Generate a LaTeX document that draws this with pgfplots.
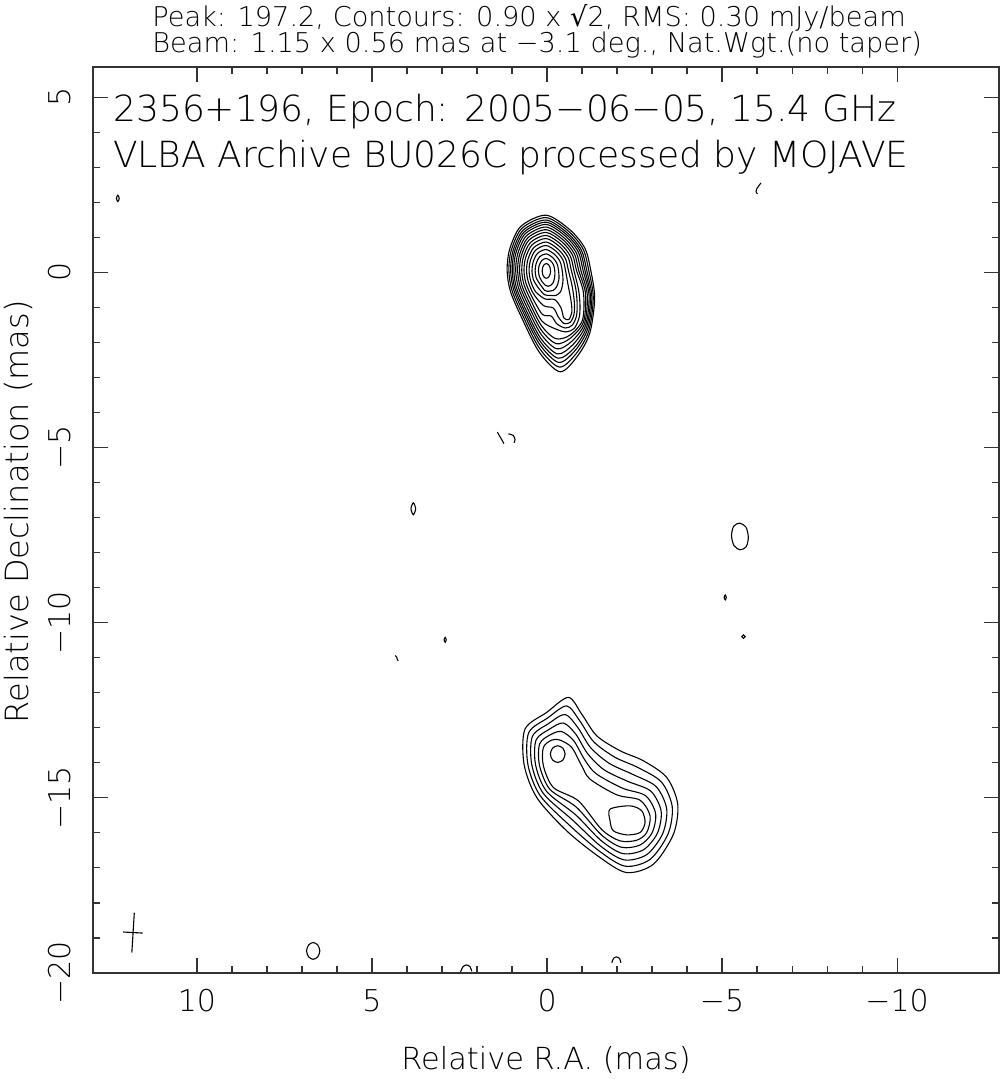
\documentclass[border=0pt]{standalone}
\usepackage{pgfplots}
\pgfplotsset{compat=1.18}
\usepackage{fontspec}
\setmainfont{DejaVu Sans}[UprightFont={* ExtraLight}]
\newfontfamily\djv{DejaVu Sans}
\newcommand{\fs}[1]{\fontsize{#1}{#1}\selectfont}
\begin{document}
\begin{tikzpicture}
\begin{axis}[
  scale only axis, width=453pt, height=453pt,
  x dir=reverse,
  xmin=-12.91, xmax=12.97, ymin=-20, ymax=5.86,
  axis line style={line width=0.7pt, black!80},
  tick pos=both, tick align=inside,
  major tick length=7.5pt, minor tick length=3.5pt,
  every tick/.style={black!80, line width=0.6pt},
  xtick={-10,-5,0,5,10}, xticklabels={−10,−5,0,5,10},
  ytick={-20,-15,-10,-5,0,5}, yticklabels={−20,−15,−10,−5,0,5},
  minor x tick num=4, minor y tick num=4,
  xticklabel style={font=\fs{15pt}, anchor=base, yshift=-19pt},
  yticklabel style={font=\fs{15pt}, xshift=-11pt, rotate=90, anchor=base},
  xlabel={Relative R.A. (mas)}, ylabel={Relative Declination (mas)},
  xlabel style={font=\fs{15.2pt}, at={(axis description cs:0.5,-0.107)}, anchor=base},
  ylabel style={font=\fs{16pt}, at={(axis description cs:-0.0717,0.509)}, anchor=base},
  clip mode=individual,
  cont/.style={black, line width=0.55pt, smooth cycle},
  arc/.style={black, line width=0.55pt, smooth},
]
% ---- core contours (levels 0..15)
\addplot[cont] coordinates {(1.14,0.05) (1.07,0.65) (0.75,1.31) (0.03,1.63) (-0.645,1.22) (-1.08,0.69) (-1.25,0.05) (-1.36,-0.75) (-1.22,-1.74) (-0.864,-2.40) (-0.37,-2.84) (0.23,-2.27) (0.76,-1.22) (1.05,-0.53)};
\addplot[cont] coordinates {(1.09,0.05) (1.023,0.625) (0.717,1.256) (0.03,1.561) (-0.615,1.17) (-1.03,0.663) (-1.193,0.05) (-1.32,-0.73) (-1.19,-1.68) (-0.832,-2.32) (-0.351,-2.706) (0.22,-2.165) (0.726,-1.166) (1.004,-0.507)};
\addplot[cont] coordinates {(1.04,0.05) (0.975,0.60) (0.683,1.201) (0.03,1.492) (-0.585,1.12) (-0.98,0.635) (-1.135,0.05) (-1.28,-0.71) (-1.16,-1.62) (-0.80,-2.235) (-0.333,-2.573) (0.21,-2.06) (0.692,-1.112) (0.957,-0.484)};
\addplot[cont] coordinates {(0.995,0.05) (0.933,0.577) (0.653,1.152) (0.03,1.43) (-0.557,1.075) (-0.936,0.611) (-1.083,0.05) (-1.24,-0.69) (-1.13,-1.57) (-0.772,-2.16) (-0.316,-2.453) (0.201,-1.965) (0.661,-1.064) (0.916,-0.463)};
\addplot[cont] coordinates {(0.949,0.05) (0.889,0.554) (0.622,1.102) (0.03,1.366) (-0.529,1.029) (-0.89,0.586) (-1.03,0.05) (-1.20,-0.67) (-1.10,-1.52) (-0.737,-2.067) (-0.299,-2.33) (0.192,-1.869) (0.63,-1.014) (0.873,-0.441)};
\addplot[cont] coordinates {(0.895,0.05) (0.838,0.526) (0.586,1.043) (0.03,1.292) (-0.497,0.975) (-0.836,0.556) (-0.968,0.05) (-1.15,-0.64) (-1.07,-1.47) (-0.702,-1.973) (-0.279,-2.185) (0.181,-1.755) (0.593,-0.956) (0.823,-0.416)};
\addplot[cont] coordinates {(0.84,0.05) (0.786,0.499) (0.549,0.984) (0.03,1.216) (-0.464,0.921) (-0.781,0.527) (-0.905,0.05) (-1.10,-0.61) (-1.04,-1.42) (-0.667,-1.879) (-0.258,-2.038) (0.17,-1.64) (0.556,-0.897) (0.772,-0.391)};
\addplot[cont] coordinates {(0.785,0.05) (0.734,0.471) (0.512,0.924) (0.03,1.14) (-0.43,0.866) (-0.726,0.497) (-0.842,0.05) (-1.04,-0.58) (-1.01,-1.37) (-0.639,-1.804) (-0.238,-1.891) (0.159,-1.524) (0.519,-0.837) (0.721,-0.365)};
\addplot[cont] coordinates {(0.722,0.05) (0.675,0.439) (0.47,0.855) (0.03,1.053) (-0.392,0.803) (-0.664,0.462) (-0.769,0.05) (-0.90,-0.50) (-0.94,-0.92) (-0.92,-1.28) (-0.78,-1.60) (-0.55,-1.70) (-0.25,-1.62) (0.146,-1.392) (0.476,-0.769) (0.663,-0.336)};
\addplot[cont] coordinates {(0.658,0.045) (0.614,0.407) (0.427,0.786) (0.03,0.965) (-0.353,0.739) (-0.6,0.427) (-0.696,0.045) (-0.82,-0.46) (-0.86,-0.90) (-0.84,-1.25) (-0.72,-1.51) (-0.52,-1.59) (-0.28,-1.47) (-0.12,-1.25) (0.134,-1.2) (0.432,-0.7) (0.604,-0.306)};
\addplot[cont] coordinates {(0.585,0.045) (0.545,0.37) (0.378,0.706) (0.03,0.864) (-0.309,0.666) (-0.527,0.388) (-0.612,0.045) (-0.72,-0.41) (-0.78,-0.86) (-0.77,-1.20) (-0.66,-1.43) (-0.48,-1.46) (-0.32,-1.27) (-0.18,-1.02) (0.10,-0.95) (0.383,-0.622) (0.536,-0.272)};
\addplot[cont] coordinates {(0.513,0.045) (0.477,0.333) (0.33,0.628) (0.03,0.765) (-0.266,0.594) (-0.456,0.348) (-0.529,0.045) (-0.60,-0.36) (-0.68,-0.78) (-0.71,-1.12) (-0.62,-1.35) (-0.48,-1.30) (-0.40,-1.02) (-0.22,-0.78) (0.06,-0.76) (0.334,-0.544) (0.469,-0.239)};
\addplot[cont] coordinates {(0.43,0.043) (0.398,0.291) (0.274,0.538) (0.03,0.65) (-0.215,0.511) (-0.373,0.303) (-0.434,0.043) (-0.454,-0.264) (-0.389,-0.55) (-0.25,-0.66) (-0.10,-0.66) (0.07,-0.64) (0.26,-0.43) (0.393,-0.2)};
\addplot[cont] coordinates {(0.34,0.042) (0.313,0.246) (0.214,0.44) (0.03,0.526) (-0.161,0.422) (-0.283,0.254) (-0.33,0.042) (-0.339,-0.202) (-0.27,-0.42) (-0.17,-0.52) (-0.06,-0.54) (0.06,-0.52) (0.2,-0.34) (0.309,-0.158)};
\addplot[cont] coordinates {(0.245,0.041) (0.223,0.198) (0.15,0.336) (0.03,0.395) (-0.104,0.327) (-0.189,0.202) (-0.221,0.041) (-0.218,-0.137) (-0.172,-0.301) (-0.109,-0.37) (-0.03,-0.40) (0.05,-0.37) (0.151,-0.255) (0.221,-0.114)};
\addplot[cont] coordinates {(0.14,0.04) (0.124,0.145) (0.08,0.222) (0.02,0.25) (-0.04,0.222) (-0.084,0.145) (-0.10,0.04) (-0.084,-0.065) (-0.049,-0.132) (-0.021,-0.157) (0.003,-0.168) (0.03,-0.169) (0.08,-0.142) (0.124,-0.065)};
% ---- southern component
\addplot[cont] coordinates {(-0.610,-12.133) (-0.990,-12.610) (-1.419,-13.229) (-2.086,-13.657) (-2.752,-13.943) (-3.419,-14.419) (-3.733,-15.181) (-3.610,-16.038) (-3.038,-16.895) (-2.276,-17.133) (-1.514,-16.705) (-0.562,-15.943) (0.295,-14.990) (0.657,-14.038) (0.629,-13.038) (0.010,-12.562)};
\addplot[cont] coordinates {(-0.562,-12.377) (-0.933,-12.800) (-1.333,-13.400) (-1.933,-13.838) (-2.600,-14.137) (-3.267,-14.548) (-3.575,-15.248) (-3.457,-16.029) (-2.943,-16.758) (-2.238,-16.952) (-1.524,-16.543) (-0.648,-15.790) (0.200,-14.933) (0.547,-14.048) (0.524,-13.143) (-0.019,-12.720)};
\addplot[cont] coordinates {(-0.514,-12.621) (-0.876,-12.990) (-1.248,-13.571) (-1.781,-14.019) (-2.448,-14.331) (-3.114,-14.678) (-3.417,-15.314) (-3.305,-16.019) (-2.848,-16.621) (-2.200,-16.771) (-1.533,-16.381) (-0.733,-15.638) (0.105,-14.876) (0.436,-14.057) (0.419,-13.248) (-0.048,-12.878)};
\addplot[cont] coordinates {(-0.467,-12.865) (-0.819,-13.181) (-1.162,-13.743) (-1.629,-14.200) (-2.295,-14.526) (-2.962,-14.808) (-3.259,-15.381) (-3.152,-16.010) (-2.752,-16.484) (-2.162,-16.590) (-1.543,-16.219) (-0.819,-15.486) (0.010,-14.819) (0.326,-14.067) (0.314,-13.352) (-0.076,-13.036)};
\addplot[cont] coordinates {(-0.419,-13.109) (-0.762,-13.371) (-1.076,-13.914) (-1.40,-14.31) (-2.143,-14.720) (-2.810,-14.937) (-3.101,-15.448) (-3.000,-16.000) (-2.657,-16.347) (-2.124,-16.410) (-1.552,-16.057) (-0.83,-15.26) (-0.086,-14.762) (0.215,-14.076) (0.210,-13.457) (-0.105,-13.194)};
\addplot[cont] coordinates {(-0.371,-13.352) (-0.705,-13.562) (-0.990,-14.086) (-1.229,-14.467) (-1.990,-14.914) (-2.657,-15.067) (-2.943,-15.514) (-2.848,-15.990) (-2.562,-16.210) (-2.086,-16.229) (-1.562,-15.905) (-0.895,-15.086) (-0.181,-14.705) (0.105,-14.086) (0.105,-13.562) (-0.133,-13.352)};
\addplot[cont] coordinates {(-0.095,-13.752) (-0.157,-13.584) (-0.305,-13.514) (-0.453,-13.584) (-0.515,-13.752) (-0.453,-13.92) (-0.305,-13.99) (-0.157,-13.92)};
\addplot[cont] coordinates {(-1.8,-15.324) (-2.371,-15.229) (-2.705,-15.371) (-2.8,-15.705) (-2.657,-15.99) (-2.276,-16.057) (-1.895,-15.943) (-1.8,-15.657)};
% ---- isolated noise contours
\addplot[cont] coordinates {(12.30,2.11) (12.26,2.20) (12.22,2.11) (12.26,2.02)};
\addplot[cont] coordinates {(3.887,-6.75) (3.82,-6.58) (3.753,-6.75) (3.82,-6.92)};
\addplot[cont] coordinates {(-5.27,-7.52) (-5.33,-7.25) (-5.50,-7.16) (-5.68,-7.27) (-5.75,-7.56) (-5.69,-7.83) (-5.52,-7.92) (-5.34,-7.80)};
\addplot[cont] coordinates {(-5.06,-9.28) (-5.09,-9.21) (-5.12,-9.28) (-5.09,-9.35)};
\addplot[cont] coordinates {(-5.56,-10.4) (-5.61,-10.35) (-5.66,-10.4) (-5.61,-10.45)};
\addplot[cont] coordinates {(2.94,-10.49) (2.91,-10.42) (2.88,-10.49) (2.91,-10.56)};
\addplot[cont] coordinates {(6.87,-19.37) (6.81,-19.2) (6.68,-19.13) (6.55,-19.2) (6.49,-19.37) (6.55,-19.54) (6.68,-19.61) (6.81,-19.54)};
\addplot[arc] coordinates {(-6.11,2.55) (-6.05,2.47) (-5.99,2.38) (-5.97,2.30) (-6.01,2.24)};
\addplot[arc] coordinates {(1.42,-4.56) (1.23,-4.89)};
\addplot[arc] coordinates {(1.106,-4.61) (0.963,-4.657) (0.914,-4.78) (0.943,-4.866)};
\addplot[arc] coordinates {(4.34,-10.94) (4.29,-10.99) (4.28,-11.05) (4.25,-11.09)};
\addplot[arc] coordinates {(2.47,-19.97) (2.40,-19.82) (2.30,-19.77) (2.20,-19.82) (2.15,-19.95)};
\addplot[arc] coordinates {(-1.85,-19.71) (-1.90,-19.58) (-1.99,-19.54) (-2.07,-19.58) (-2.11,-19.71)};
% ---- beam
\addplot[black, line width=0.55pt] coordinates {(11.79,-18.28) (11.86,-19.42)};
\addplot[black, line width=0.55pt] coordinates {(12.11,-18.83) (11.55,-18.86)};
% ---- texts
\node[anchor=base west, inner sep=0pt, font=\fs{18pt}] at (axis description cs:0.022,0.940) {2356+196, Epoch: 2005−06−05, 15.4 GHz};
\node[anchor=base west, inner sep=0pt, font=\fs{18pt}] at (axis description cs:0.022,0.8885) {VLBA Archive BU026C processed by MOJAVE};
\node[anchor=base west, inner sep=0pt, font=\fs{13.6pt}] at (axis description cs:0.0651,1.0450) {Peak: 197.2, Contours: 0.90 x {\djv √}2, RMS: 0.30 mJy/beam};
\node[anchor=base west, inner sep=0pt, font=\fs{13.6pt}] at (axis description cs:0.0651,1.0165) {Beam: 1.15 x 0.56 mas at −3.1 deg., Nat.Wgt.(no taper)};
\coordinate (BL) at (axis description cs:0,0);
\coordinate (TR) at (axis description cs:1,1);
\end{axis}
\pgfresetboundingbox
\path ([shift={(-46.5pt,-53pt)}]BL) rectangle ([shift={(1pt,33.5pt)}]TR);
\end{tikzpicture}
\end{document}
